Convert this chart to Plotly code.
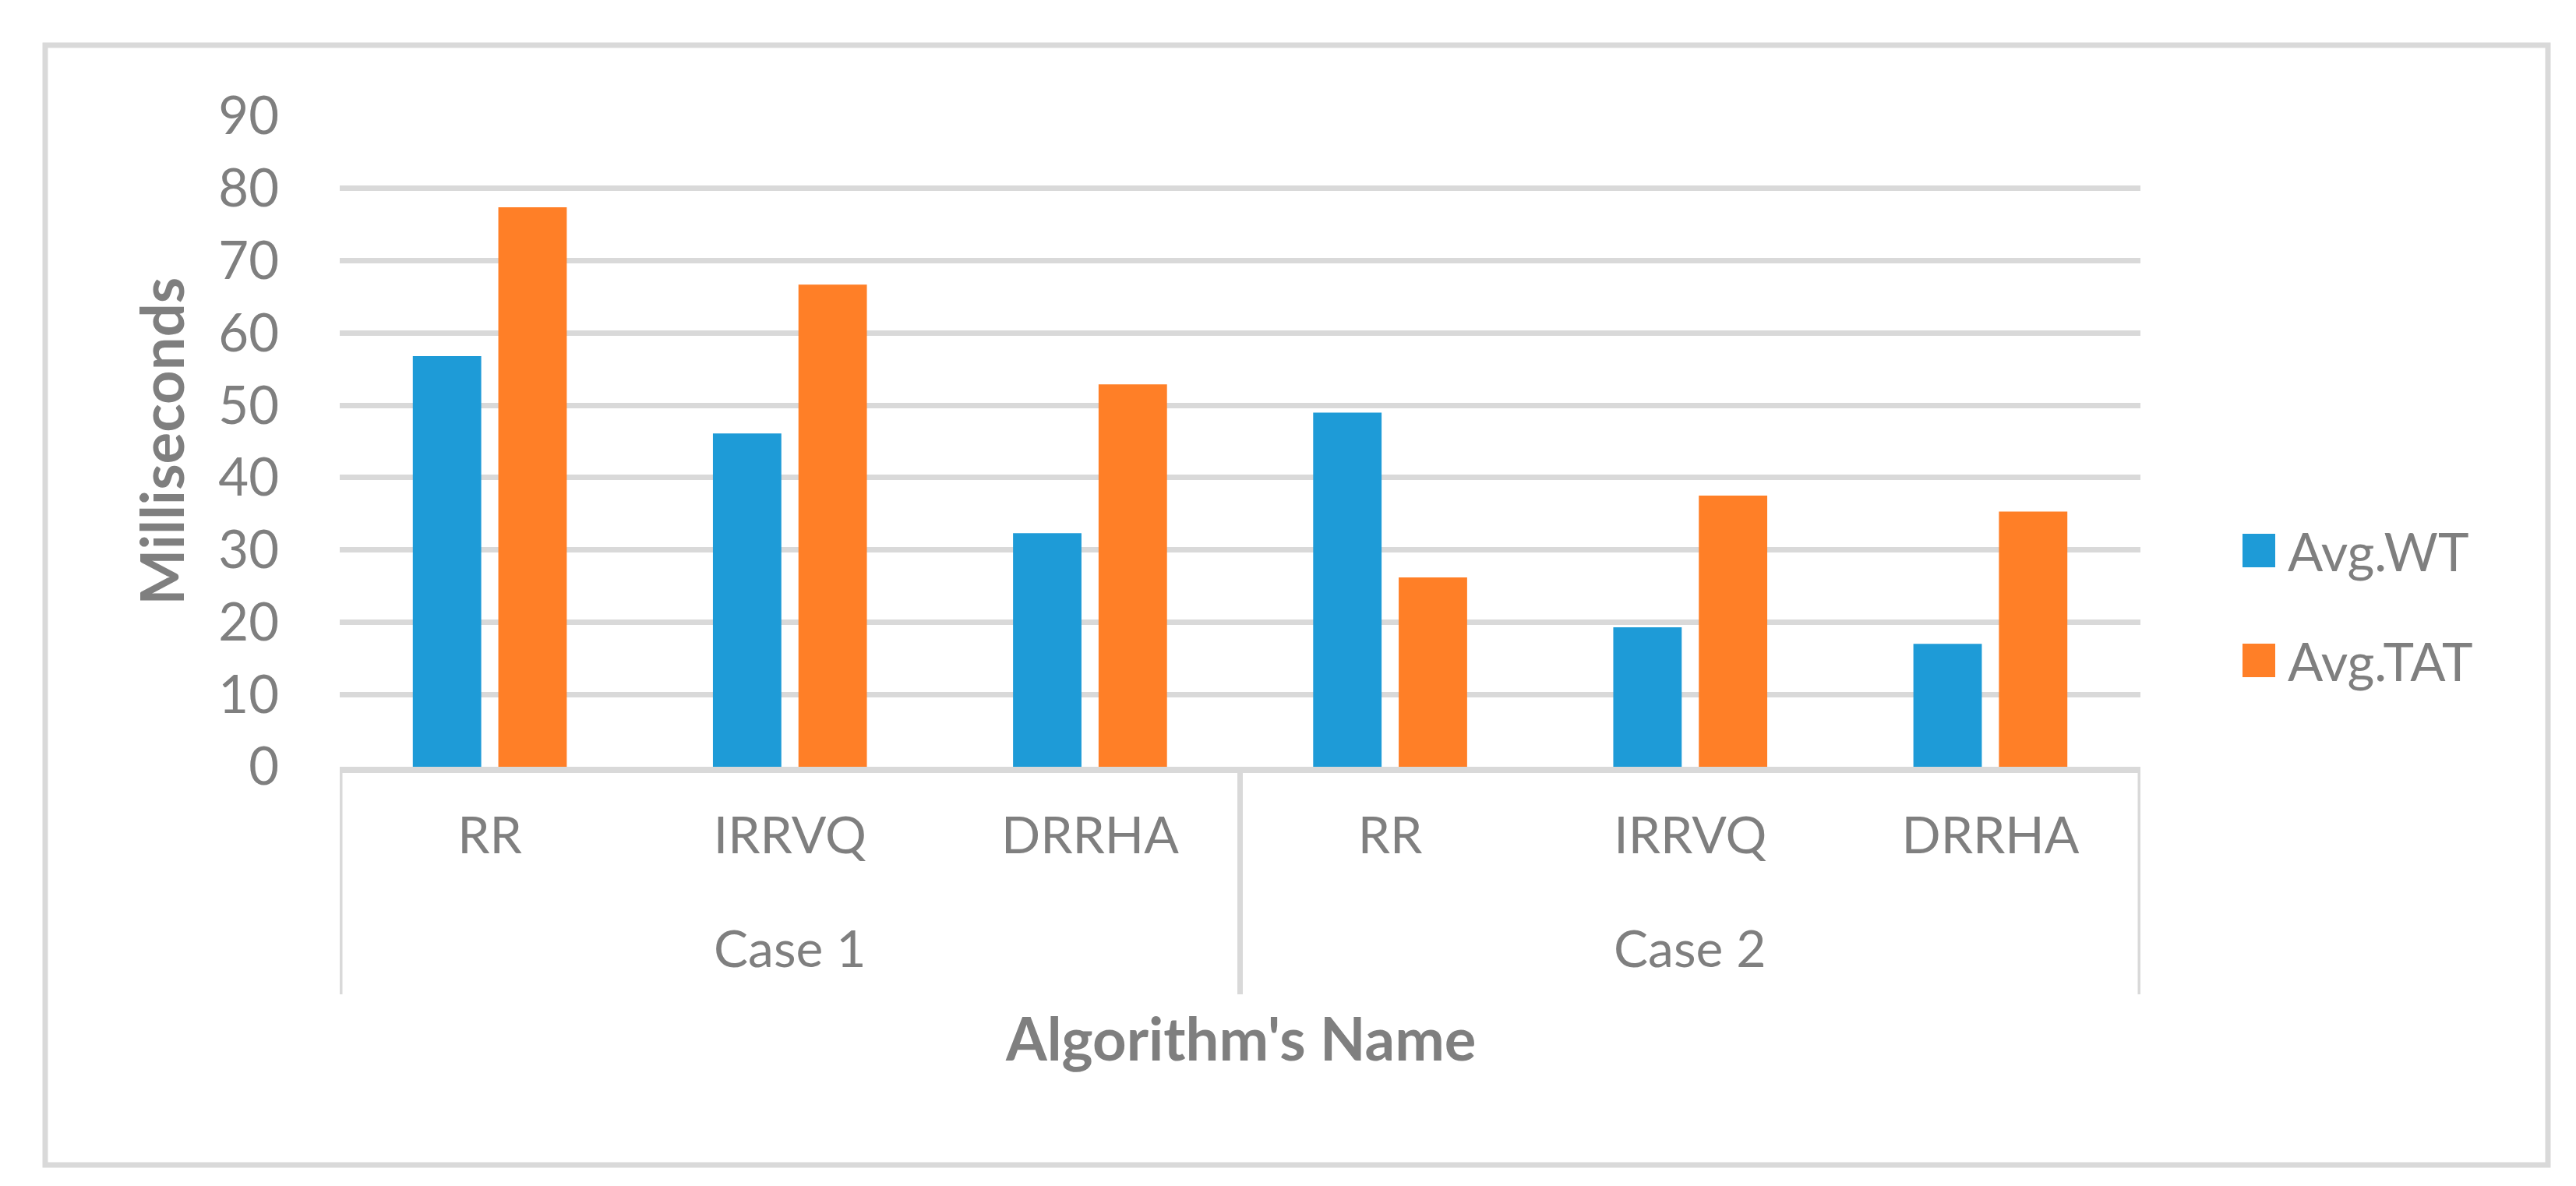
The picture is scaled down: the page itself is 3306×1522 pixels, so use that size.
import plotly.graph_objects as go

# ---- data ----
cases = ["Case 1", "Case 2"]
algorithms = ["RR", "IRRVQ", "DRRHA"]
avg_wt = [56.8, 46.1, 32.3, 49.0, 19.3, 17.0]
avg_tat = [77.4, 66.7, 52.9, 26.2, 37.5, 35.3]
series_names = ["Avg.WT", "Avg.TAT"]
series_colors = ["#1E9BD7", "#FF7F27"]
y_ticks = [0, 10, 20, 30, 40, 50, 60, 70, 80, 90]
x_title = "Algorithm's Name"
y_title = "Milliseconds"

# ---- layout geometry (pixels) ----
W, H = 3306, 1522
L, R, T, B = 428, 567, 141, 546
PW, PH = W - L - R, H - T - B
GRID = "#D9D9D9"
TXT = "#7F7F7F"
FONT = "Lato"


def px(x):
    return (x - L) / PW


def py(y):
    return (H - B - y) / PH


tick_text = [a for c in cases for a in algorithms]
x_pos = list(range(len(tick_text)))

fig = go.Figure()
for name, vals, col in zip(series_names, [avg_wt, avg_tat], series_colors):
    fig.add_bar(x=x_pos, y=vals, name=name,
                marker=dict(color=col, line=dict(width=0)),
                showlegend=False)

shapes = []
annotations = []

# group dividers below the x axis
n = len(algorithms)
for k in range(len(cases) + 1):
    xb = -0.5 + k * n
    shapes.append(dict(type="line", xref="x", yref="paper", x0=xb, x1=xb,
                       y0=py(979), y1=py(1268),
                       line=dict(color=GRID, width=7)))

# case labels
for i, c in enumerate(cases):
    annotations.append(dict(text=c, xref="x", yref="paper",
                            x=i * n + (n - 1) / 2, y=py(1207),
                            xanchor="center", yanchor="middle", showarrow=False,
                            font=dict(family=FONT, size=66, color=TXT)))

# axis titles
annotations.append(dict(text=x_title, xref="paper", yref="paper",
                        x=0.5, y=py(1323), xanchor="center", yanchor="middle",
                        showarrow=False,
                        font=dict(family=FONT, size=76, color=TXT, weight=700)))
annotations.append(dict(text=y_title, xref="paper", yref="paper",
                        x=px(198), y=0.5, xanchor="center", yanchor="middle",
                        textangle=-90, showarrow=False,
                        font=dict(family=FONT, size=76, color=TXT, weight=700)))

# legend (manual, large swatches)
for i, (name, col) in enumerate(zip(series_names, series_colors)):
    cy = 698.5 + i * 141
    shapes.append(dict(type="rect", xref="paper", yref="paper",
                       x0=px(2870), x1=px(2912), y0=py(cy + 21.5), y1=py(cy - 21.5),
                       fillcolor=col, line=dict(width=0)))
    annotations.append(dict(text=name, xref="paper", yref="paper",
                            x=px(2926), y=py(cy), xanchor="left", yanchor="middle",
                            showarrow=False,
                            font=dict(family=FONT, size=67, color=TXT)))

# outer chart border
shapes.append(dict(type="rect", xref="paper", yref="paper",
                   x0=px(50), x1=px(3262), y0=py(1487), y1=py(50),
                   line=dict(color=GRID, width=7), fillcolor="rgba(0,0,0,0)",
                   layer="below"))

fig.update_layout(
    width=W, height=H, autosize=False,
    margin=dict(l=L, r=R, t=T, b=B, pad=0),
    paper_bgcolor="white", plot_bgcolor="white",
    barmode="group", bargap=0.43, bargroupgap=0.2,
    font=dict(family=FONT, size=66, color=TXT),
    showlegend=False,
    shapes=shapes, annotations=annotations,
    xaxis=dict(range=[-0.5, len(x_pos) - 0.5], tickmode="array",
               tickvals=x_pos, ticktext=tick_text, ticks="",
               showgrid=False, zeroline=False, showline=True,
               linecolor=GRID, linewidth=8, ticklabelstandoff=24,
               tickfont=dict(family=FONT, size=66, color=TXT),
               automargin=False, fixedrange=True),
    yaxis=dict(range=[0, 90], tickmode="array", tickvals=y_ticks,
               ticks="", showgrid=True, gridcolor=GRID, gridwidth=7,
               zeroline=False, showline=False, ticklabelstandoff=77,
               tickfont=dict(family=FONT, size=67, color=TXT),
               automargin=False, fixedrange=True),
)

fig.write_html("out.html", config={"displayModeBar": False})
